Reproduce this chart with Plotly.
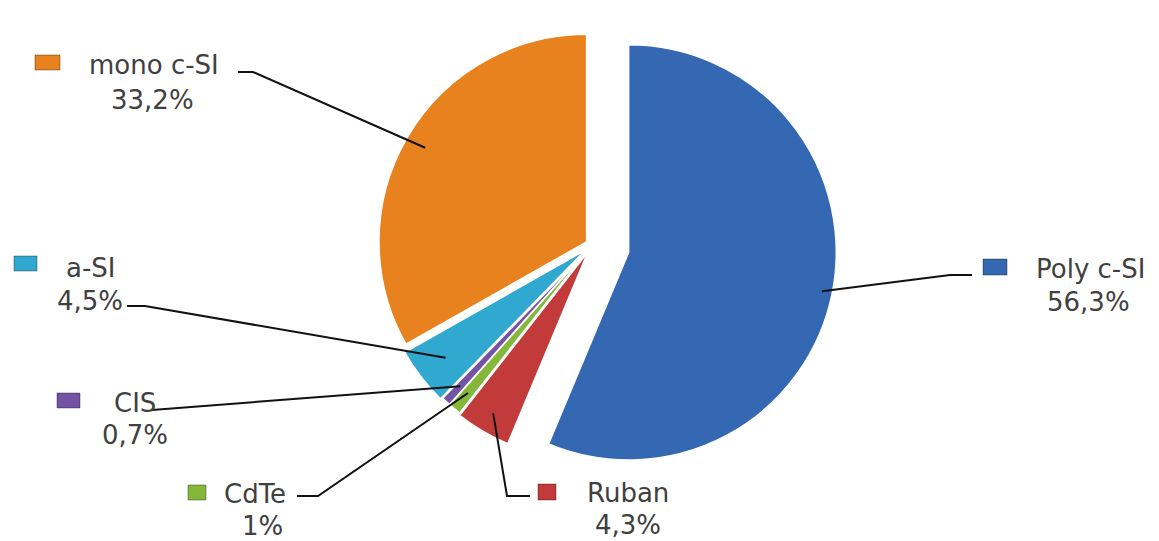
import math
import plotly.graph_objects as go

# ---------------- data ----------------
labels = ["Poly c-SI", "Ruban", "CdTe", "CIS", "a-SI", "mono c-SI"]
values = [56.3, 4.3, 1.0, 0.7, 4.5, 33.2]
colors = ["#3468B2", "#C23B3A", "#85B83A", "#7452A4", "#31A8CF", "#E8821E"]
pulls = [0.18, 0.04, 0.03, 0.03, 0.04, 0.03]

W, H = 1159, 541
def fx(px):
    return px / W
def fy(py):
    return 1 - py / H

# pie placement (pixels)
CX, CY, SIDE = 592, 245, 490
R = SIDE / (2 * (1 + max(pulls)))

fig = go.Figure(go.Pie(
    labels=labels, values=values, sort=False, direction="clockwise", rotation=0,
    pull=pulls, marker=dict(colors=colors, line=dict(color="white", width=1.5)),
    textinfo="none", hoverinfo="label+percent", showlegend=False,
    domain=dict(x=[fx(CX - SIDE / 2), fx(CX + SIDE / 2)], y=[fy(CY + SIDE / 2), fy(CY - SIDE / 2)]),
))

# label layout (pixels): square box, name centre, value centre, leader start, elbow
label_layout = {
    "mono c-SI": dict(sq=(35, 55, 60, 70), name=(154, 65), val=(152, 100), start=(238, 72), elbow=(253, 72), f=0.9),
    "a-SI":      dict(sq=(14, 256, 37, 271), name=(91, 268), val=(90, 301), start=(127, 306), elbow=(145, 306), f=0.85),
    "CIS":       dict(sq=(57, 393, 80, 408), name=(135, 403), val=(135, 435), start=(152, 410), elbow=(152, 410), f=0.9),
    "CdTe":      dict(sq=(188, 485, 206, 500), name=(255, 494), val=(262, 526), start=(297, 496), elbow=(318, 496), f=0.9),
    "Ruban":     dict(sq=(538, 484, 556, 500), name=(628, 493), val=(628, 525), start=(530, 496), elbow=(507, 496), f=0.9),
    "Poly c-SI": dict(sq=(983, 259, 1007, 275), name=(1090, 269), val=(1088, 302), start=(972, 275), elbow=(950, 275), f=0.95),
}

total = sum(values)
cum = 0.0
shapes, annotations = [], []
font = dict(family="DejaVu Sans, Open Sans, sans-serif", size=26, color="#404040")
for lab, v, col, p in zip(labels, values, colors, pulls):
    mid = (cum + v / 2) / total * 2 * math.pi
    cum += v
    L = label_layout[lab]
    d = (p + L["f"]) * R
    ex, ey = CX + d * math.sin(mid), CY - d * math.cos(mid)
    sx, sy = L["start"]
    bx, by = L["elbow"]
    shapes.append(dict(type="path", xref="paper", yref="paper",
                       path=f"M {fx(sx)} {fy(sy)} L {fx(bx)} {fy(by)} L {fx(ex)} {fy(ey)}",
                       line=dict(color="#111111", width=2)))
    x0, y0, x1, y1 = L["sq"]
    shapes.append(dict(type="rect", xref="paper", yref="paper",
                       x0=fx(x0), x1=fx(x1), y0=fy(y1), y1=fy(y0),
                       fillcolor=col, line=dict(color="rgba(0,0,0,0.35)", width=1)))
    txt = f"{v:g}".replace(".", ",") + "%"
    annotations.append(dict(text=lab, x=fx(L["name"][0]), y=fy(L["name"][1]), xref="paper", yref="paper",
                            showarrow=False, xanchor="center", yanchor="middle", font=font))
    annotations.append(dict(text=txt, x=fx(L["val"][0]), y=fy(L["val"][1]), xref="paper", yref="paper",
                            showarrow=False, xanchor="center", yanchor="middle", font=font))

fig.update_layout(width=W, height=H, margin=dict(l=0, r=0, t=0, b=0),
                  paper_bgcolor="white", plot_bgcolor="white",
                  shapes=shapes, annotations=annotations)
fig.write_html("out.html")
